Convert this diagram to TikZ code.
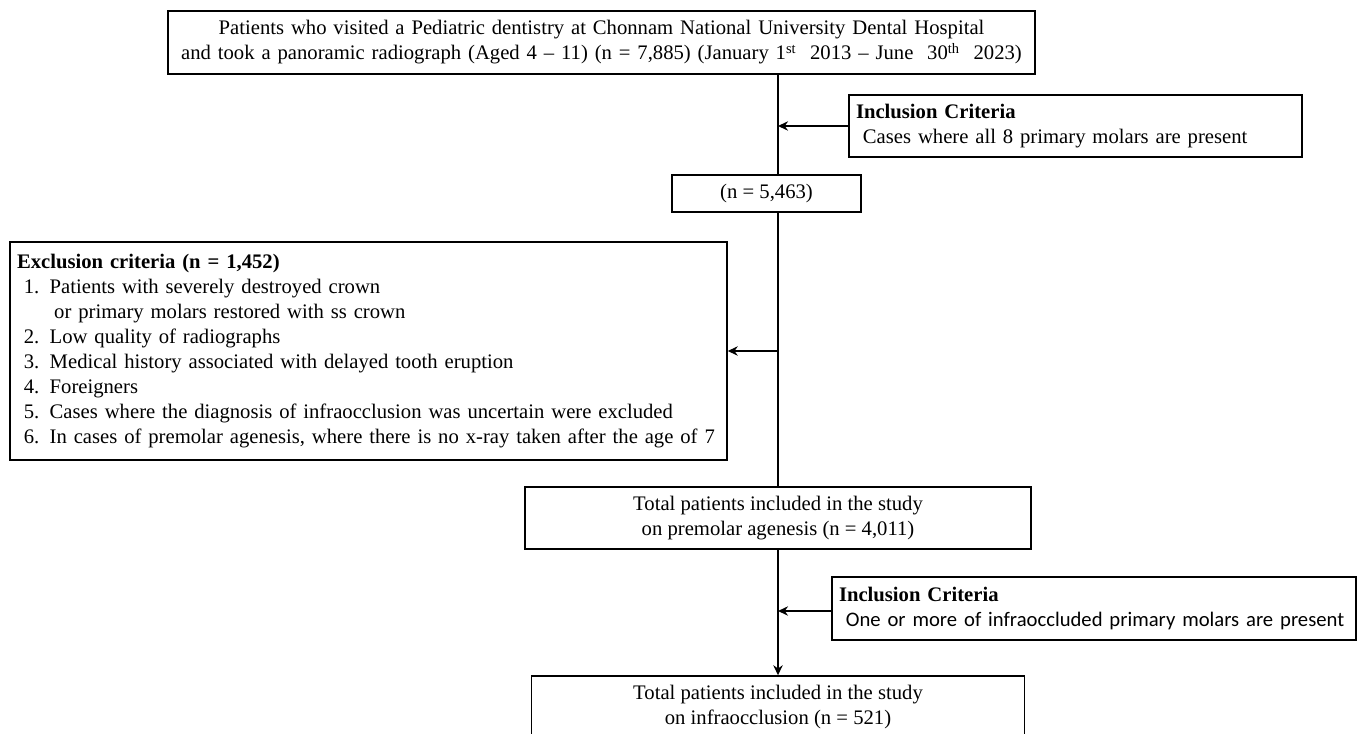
\documentclass[tikz,border=0pt]{standalone}
\usepackage{fontspec}
\setmainfont{Liberation Serif}
\newfontfamily\calib{Carlito}
\usetikzlibrary{arrows.meta}
\begin{document}
\begin{tikzpicture}[x=0.75pt,y=-0.75pt,
  box/.style={draw,line width=1.1pt,inner xsep={7*0.75pt},inner ysep=0pt,
    font=\fontsize{15.5}{18.8}\selectfont},
  cbox/.style={box,align=center},
  lbox/.style={box,align=left},
  arr/.style={line width=1.5pt,-{Stealth[length=7.5pt,width=7pt]}},
  ln/.style={line width=1.5pt}]
\useasboundingbox (0,0) rectangle (1358,734);
\node[cbox,text width={853*0.75pt},minimum height={63*0.75pt}] (top) at (601.5,42.5)
  {Patients who visited a Pediatric dentistry at Chonnam National University Dental Hospital\\
   and took a panoramic radiograph (Aged 4 -- 11) (n = 7,885) (January 1\textsuperscript{st}\ \ 2013 -- June\ \ 30\textsuperscript{th}\ \ 2023)};
\node[cbox,minimum width={189*0.75pt},minimum height={37*0.75pt}] (n1) at (766.5,193.5) {(n = 5,463)};
\node[lbox,text width={439*0.75pt},minimum height={62*0.75pt}] (inc1) at (1075.5,126)
  {\textbf{Inclusion Criteria}\\ \ Cases where all 8 primary molars are present};
\node[lbox,text width={703*0.75pt},minimum height={218*0.75pt}] (exc) at (368.5,351)
  {\textbf{Exclusion criteria (n = 1,452)}\\
   \ 1. Patients with severely destroyed crown\\
   \hspace*{1.8em}or primary molars restored with ss crown\\
   \ 2. Low quality of radiographs\\
   \ 3. Medical history associated with delayed tooth eruption\\
   \ 4. Foreigners\\
   \ 5. Cases where the diagnosis of infraocclusion was uncertain were excluded\\
   \ 6. In cases of premolar agenesis, where there is no x-ray taken after the age of 7};
\node[cbox,minimum width={506*0.75pt},minimum height={62*0.75pt}] (tot1) at (778,518)
  {Total patients included in the study\\ on premolar agenesis (n = 4,011)};
\node[lbox,text width={510*0.75pt},minimum height={63*0.75pt}] (inc2) at (1094,608.5)
  {\textbf{Inclusion Criteria}\\ {\calib\ One or more of infraoccluded primary molars are present}};
\node[cbox,minimum width={493*0.75pt},minimum height={62*0.75pt}] (tot2) at (778,707)
  {Total patients included in the study\\ on infraocclusion (n = 521)};
\draw[ln] (top.south -| tot1.north) -- (n1.north -| tot1.north);
\draw[ln] (n1.south -| tot1.north) -- (tot1.north);
\draw[arr] (tot1.south) -- (tot2.north);
\draw[arr] (inc1.west) -- (inc1.west -| tot1.north);
\draw[arr] (exc.east -| tot1.north) -- (exc.east);
\draw[arr] (inc2.west |- 0,611) -- (tot1.north |- 0,611);
\end{tikzpicture}
\end{document}
